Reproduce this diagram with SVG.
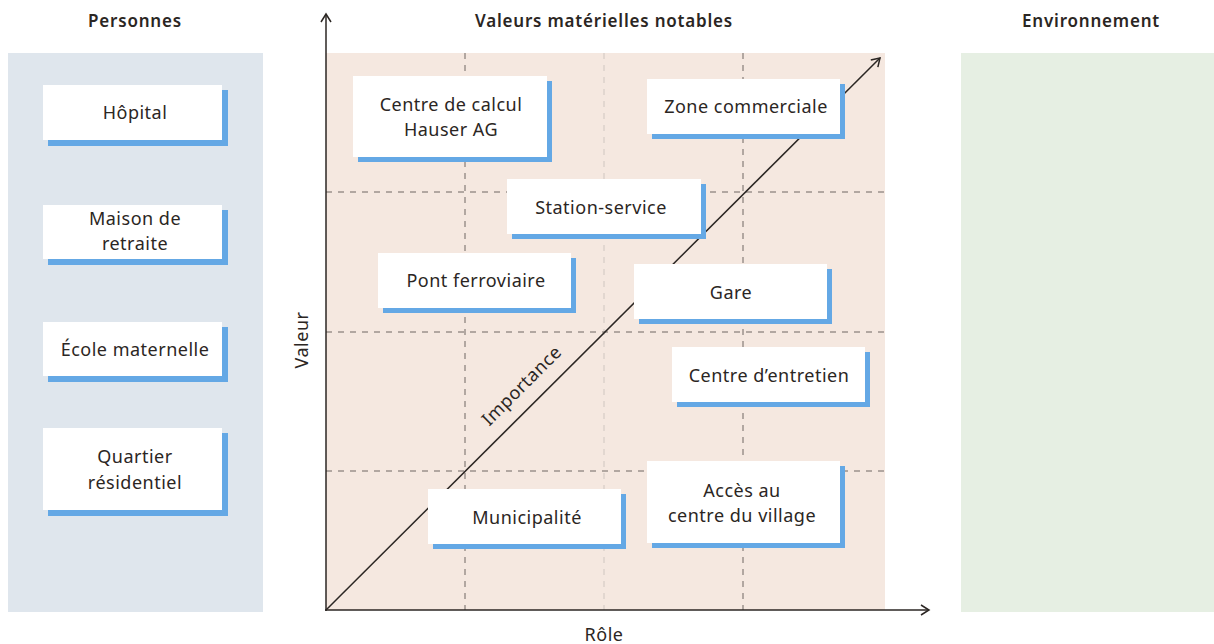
<svg xmlns="http://www.w3.org/2000/svg" width="1214" height="644" viewBox="0 0 1214 644">
  <defs>
    <style>
      .title { font-family: "Noto Sans", "Liberation Sans", sans-serif; font-size: 17px; font-weight: 600; letter-spacing: 0.8px; fill: #2b2623; text-anchor: middle; }
      .label { font-family: "Noto Sans", "Liberation Sans", sans-serif; font-size: 18px; letter-spacing: 0.5px; fill: #2b2623; text-anchor: middle; }
      .axis { stroke: #2b2623; stroke-width: 1.5; fill: none; }
      .grid { stroke: #6e6662; stroke-width: 1; stroke-dasharray: 6 6; fill: none; }
      .grid-light { stroke: #cfc6c0; stroke-width: 1; stroke-dasharray: 6 6; fill: none; }
      .shadow { fill: #64a8e5; }
      .card { fill: #ffffff; }
    </style>
    <marker id="arrow" viewBox="0 0 12 12" refX="10" refY="6" markerWidth="12" markerHeight="12" markerUnits="userSpaceOnUse" orient="auto">
      <path d="M2,1 L10,6 L2,11" fill="none" stroke="#2b2623" stroke-width="1.5"/>
    </marker>
  </defs>

  <!-- panels -->
  <rect x="8" y="53" width="255" height="559" fill="#dfe6ed"/>
  <rect x="326" y="53" width="559" height="557" fill="#f5e8e0"/>
  <rect x="961" y="53" width="253" height="559" fill="#e6efe3"/>

  <!-- titles -->
  <text class="title" x="135" y="27">Personnes</text>
  <text class="title" x="604" y="27">Valeurs matérielles notables</text>
  <text class="title" x="1091" y="27">Environnement</text>

  <!-- grid -->
  <g id="grid">
    <line class="grid" x1="465" y1="53" x2="465" y2="610"/>
    <line class="grid-light" x1="604" y1="53" x2="604" y2="610"/>
    <line class="grid" x1="743" y1="53" x2="743" y2="610"/>
    <line class="grid" x1="326" y1="192" x2="885" y2="192"/>
    <line class="grid" x1="326" y1="332" x2="885" y2="332"/>
    <line class="grid" x1="326" y1="471" x2="885" y2="471"/>
  </g>

  <!-- axes and diagonal -->
  <g id="connectors">
    <line class="axis" x1="326" y1="611" x2="326" y2="14" marker-end="url(#arrow)"/>
    <line class="axis" x1="325" y1="610" x2="929" y2="610" marker-end="url(#arrow)"/>
    <line class="axis" x1="326" y1="610" x2="880" y2="58" marker-end="url(#arrow)"/>
  </g>

  <text class="label" x="0" y="0" transform="translate(526,390) rotate(-45)">Importance</text>
  <text class="label" x="0" y="0" transform="translate(308,340) rotate(-90)">Valeur</text>
  <text class="label" x="604" y="641">Rôle</text>

  <!-- Personnes -->
  <g id="hopital">
    <rect class="shadow" x="48" y="90" width="180" height="56"/>
    <rect class="card" x="43" y="85" width="179" height="55"/>
    <text class="label" x="135" y="119">Hôpital</text>
  </g>
  <g id="maison-retraite">
    <rect class="shadow" x="48" y="210" width="180" height="55"/>
    <rect class="card" x="43" y="205" width="179" height="54"/>
    <text class="label" x="135" y="225">Maison de</text>
    <text class="label" x="135" y="250">retraite</text>
  </g>
  <g id="ecole">
    <rect class="shadow" x="48" y="327" width="180" height="55"/>
    <rect class="card" x="43" y="322" width="179" height="54"/>
    <text class="label" x="135" y="356">École maternelle</text>
  </g>
  <g id="quartier">
    <rect class="shadow" x="48" y="433" width="180" height="83"/>
    <rect class="card" x="43" y="428" width="179" height="82"/>
    <text class="label" x="135" y="463">Quartier</text>
    <text class="label" x="135" y="489">résidentiel</text>
  </g>

  <!-- Valeurs matérielles -->
  <g id="centre-calcul">
    <rect class="shadow" x="358" y="81" width="194" height="81"/>
    <rect class="card" x="353" y="76" width="194" height="81"/>
    <text class="label" x="451" y="111">Centre de calcul</text>
    <text class="label" x="451" y="136">Hauser AG</text>
  </g>
  <g id="zone-commerciale">
    <rect class="shadow" x="652" y="84" width="193" height="55"/>
    <rect class="card" x="647" y="79" width="193" height="55"/>
    <text class="label" x="746" y="113">Zone commerciale</text>
  </g>
  <g id="station-service">
    <rect class="shadow" x="512" y="184" width="194" height="55"/>
    <rect class="card" x="507" y="179" width="194" height="55"/>
    <text class="label" x="601" y="214">Station-service</text>
  </g>
  <g id="pont-ferroviaire">
    <rect class="shadow" x="383" y="258" width="193" height="55"/>
    <rect class="card" x="378" y="253" width="193" height="55"/>
    <text class="label" x="476" y="287">Pont ferroviaire</text>
  </g>
  <g id="gare">
    <rect class="shadow" x="639" y="269" width="193" height="55"/>
    <rect class="card" x="634" y="264" width="193" height="55"/>
    <text class="label" x="731" y="299">Gare</text>
  </g>
  <g id="centre-entretien">
    <rect class="shadow" x="677" y="352" width="193" height="55"/>
    <rect class="card" x="672" y="347" width="193" height="55"/>
    <text class="label" x="769" y="382">Centre d’entretien</text>
  </g>
  <g id="municipalite">
    <rect class="shadow" x="433" y="494" width="193" height="55"/>
    <rect class="card" x="428" y="489" width="193" height="55"/>
    <text class="label" x="527" y="524">Municipalité</text>
  </g>
  <g id="acces-village">
    <rect class="shadow" x="652" y="466" width="193" height="82"/>
    <rect class="card" x="647" y="461" width="193" height="82"/>
    <text class="label" x="742" y="497">Accès au</text>
    <text class="label" x="742" y="522">centre du village</text>
  </g>
</svg>
